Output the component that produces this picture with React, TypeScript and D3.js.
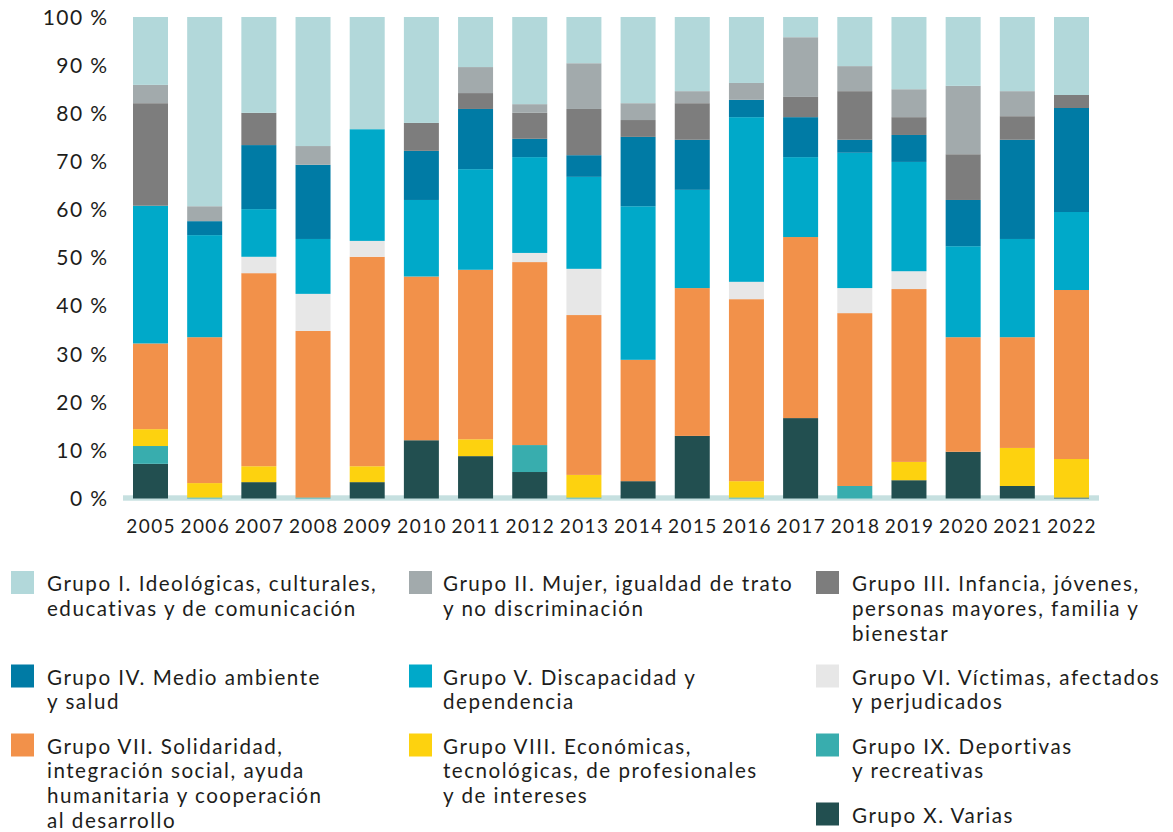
import React from "react";
import * as d3 from "d3";

const years = ["2005","2006","2007","2008","2009","2010","2011","2012","2013","2014","2015","2016","2017","2018","2019","2020","2021","2022"];

// values in % per year
const grupoI    = [14.1, 39.3, 19.9, 26.8, 23.3, 22.0, 10.4, 18.1, 9.6, 17.9, 15.4, 13.7, 4.2, 10.2, 15.0, 14.3, 15.4, 16.2];
const grupoII   = [3.8, 3.1, 0, 3.9, 0, 0, 5.4, 1.8, 9.5, 3.5, 2.5, 3.5, 12.4, 5.2, 5.8, 14.2, 5.2, 0];
const grupoIII  = [21.3, 0, 6.7, 0, 0, 5.8, 3.3, 5.4, 9.6, 3.5, 7.6, 0, 4.2, 10.1, 3.7, 9.5, 4.9, 2.7];
const grupoIV   = [0, 2.9, 13.3, 15.4, 0, 10.2, 12.5, 3.8, 4.5, 14.4, 10.4, 3.6, 8.3, 2.7, 5.6, 9.6, 20.6, 21.6];
const grupoV    = [28.6, 21.2, 9.9, 11.4, 23.2, 15.9, 20.9, 19.9, 19.1, 31.9, 20.4, 34.2, 16.6, 28.1, 22.7, 18.9, 20.4, 16.2];
const grupoVI   = [0, 0, 3.4, 7.7, 3.3, 0, 0, 1.9, 9.6, 0, 0, 3.6, 0, 5.2, 3.7, 0, 0, 0];
const grupoVII  = [17.8, 30.3, 40.1, 34.6, 43.5, 34.0, 35.2, 38.0, 33.2, 25.2, 30.7, 37.8, 37.6, 35.9, 35.9, 23.8, 23.0, 35.1];
const grupoVIII = [3.5, 3.0, 3.3, 0, 3.3, 0, 3.5, 0, 4.7, 0, 0, 3.4, 0, 0, 3.8, 0, 7.9, 8.0];
const grupoIX   = [3.7, 0.2, 0, 0.2, 0, 0, 0, 5.6, 0.2, 0, 0, 0.2, 0, 2.6, 0, 0, 0, 0];
const grupoX    = [7.2, 0, 3.4, 0, 3.4, 12.1, 8.8, 5.5, 0, 3.6, 13.0, 0, 16.7, 0, 3.8, 9.7, 2.6, 0.2];

const seriesKeys = ["I","II","III","IV","V","VI","VII","VIII","IX","X"];
const seriesValues = [grupoI, grupoII, grupoIII, grupoIV, grupoV, grupoVI, grupoVII, grupoVIII, grupoIX, grupoX];
const seriesColors = ["#b2d8da","#a2aaac","#7d7d7d","#007ba5","#00a9c9","#e7e7e7","#f2914a","#fdd20f","#38adae","#224f50"];

const yTicks = [0, 10, 20, 30, 40, 50, 60, 70, 80, 90, 100];

const legendLines = [
  ["Grupo I. Ideológicas, culturales,", "educativas y de comunicación"],
  ["Grupo II. Mujer, igualdad de trato", "y no discriminación"],
  ["Grupo III. Infancia, jóvenes,", "personas mayores, familia y", "bienestar"],
  ["Grupo IV. Medio ambiente", "y salud"],
  ["Grupo V. Discapacidad y", "dependencia"],
  ["Grupo VI. Víctimas, afectados", "y perjudicados"],
  ["Grupo VII. Solidaridad,", "integración social, ayuda", "humanitaria y cooperación", "al desarrollo"],
  ["Grupo VIII. Económicas,", "tecnológicas, de profesionales", "y de intereses"],
  ["Grupo IX. Deportivas", "y recreativas"],
  ["Grupo X. Varias"],
];

const FONT = "Lato, 'Open Sans', sans-serif";

export default function App() {
  const W = 1173, H = 832;
  const x = d3.scaleBand<string>().domain(years).range([133, 1089]).paddingInner(0.354).paddingOuter(0);
  const y = d3.scaleLinear().domain([0, 100]).range([498.5, 17]);

  // stack bottom to top: X .. I
  const order = [...seriesKeys].reverse();
  const rows = years.map((yr, i) => {
    const r: any = { year: yr };
    seriesKeys.forEach((k, s) => (r[k] = seriesValues[s][i]));
    return r;
  });
  const stack = d3.stack<any>().keys(order)(rows);
  const colorOf = (k: string) => seriesColors[seriesKeys.indexOf(k)];

  const colX = [11, 409, 816];
  const textX = [47, 443, 852];
  const rowY = [571, 664.5, 733.5, 802.5];
  const legendPos = [
    [0, 0], [1, 0], [2, 0],
    [0, 1], [1, 1], [2, 1],
    [0, 2], [1, 2], [2, 2],
    [2, 3],
  ];
  const lineH = 24.8;

  return (
    <svg width={W} height={H} style={{ position: "absolute", left: 0, top: 0, background: "#fff" }} fontFamily={FONT}>
      <rect x={123} y={495.3} width={976} height={5.4} fill="#c6e0e0" />
      {stack.map((layer) => (
        <g key={layer.key} fill={colorOf(layer.key)}>
          {layer.map((d, i) => {
            const h = y(d[0]) - y(d[1]);
            if (h <= 0) return null;
            return <rect key={i} x={x(years[i])} y={y(d[1])} width={x.bandwidth()} height={h} />;
          })}
        </g>
      ))}
      {yTicks.map((t) => (
        <text key={t} x={108.5} y={y(t)} dy="0.36em" textAnchor="end" fontSize={21} letterSpacing={1.4} fill="#1d1d1b">
          {t} %
        </text>
      ))}
      {years.map((yr) => (
        <text key={yr} x={(x(yr) as number) + x.bandwidth() / 2 + 0.7} y={532.5} textAnchor="middle" fontSize={19} letterSpacing={1.4} fill="#1d1d1b">
          {yr}
        </text>
      ))}
      {legendLines.map((lines, i) => {
        const [c, r] = legendPos[i];
        const top = rowY[r];
        return (
          <g key={i}>
            <rect x={colX[c]} y={top} width={23} height={23} fill={seriesColors[i]} />
            {lines.map((ln, j) => (
              <text key={j} x={textX[c]} y={top + 20 + j * lineH} fontSize={20.6} letterSpacing={1.5} fill="#1d1d1b">
                {ln}
              </text>
            ))}
          </g>
        );
      })}
    </svg>
  );
}
